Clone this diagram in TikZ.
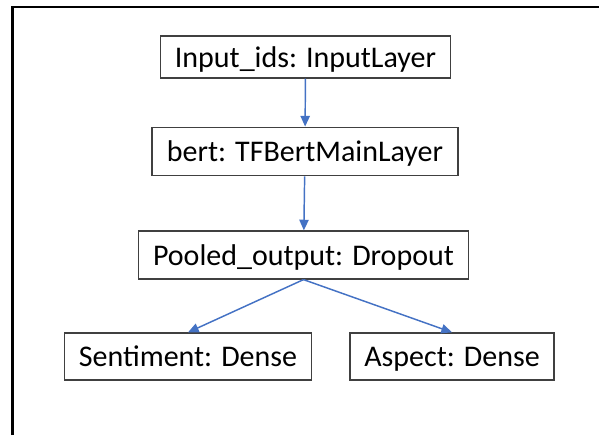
\documentclass[tikz,border=0pt]{standalone}
\usepackage{fontspec}
\setmainfont{Carlito}
\usetikzlibrary{arrows.meta,positioning}

\begin{document}
\begin{tikzpicture}[x=0.75pt, y=-0.75pt]
        \definecolor{layerblue}{RGB}{68,114,196}
        \definecolor{layergray}{RGB}{64,64,64}

        % pixel coordinates, origin top left
        \useasboundingbox (0,0) rectangle (599,435);
        \draw[line width=1.6pt, black] (12.5,435) -- (12.5,7) -- (599,7);

        \tikzset{layer/.style={draw=layergray, line width=0.9pt, fill=white, inner sep=0pt, text depth=0pt, font=\fontsize{22.5}{26}\selectfont},
                 flow/.style={layerblue, line width=1.1pt, -{Triangle[length=8pt, width=7pt]}}}

        \node[layer, minimum width=218pt, minimum height=31.5pt] (inp) at (305.5,57) {Input\_ids: InputLayer};
        \node[layer, minimum width=229.5pt, minimum height=36.5pt] (bert) at (305,151.5) {bert: TFBertMainLayer};
        \node[layer, minimum width=248pt, minimum height=36pt] (pool) at (303.5,255) {Pooled\_output: Dropout};
        \node[layer, minimum width=185.5pt, minimum height=35.3pt] (sent) at (188,356.5) {Sentiment: Dense};
        \node[layer, minimum width=153pt, minimum height=35.3pt] (asp) at (452,356.5) {Aspect: Dense};

        \draw[flow] (inp) -- (bert);
        \draw[flow] (bert) -- (pool);
        \draw[flow] (pool.south) -- (sent.north);
        \draw[flow] (pool.south) -- (asp.north);
    \end{tikzpicture}
\end{document}
